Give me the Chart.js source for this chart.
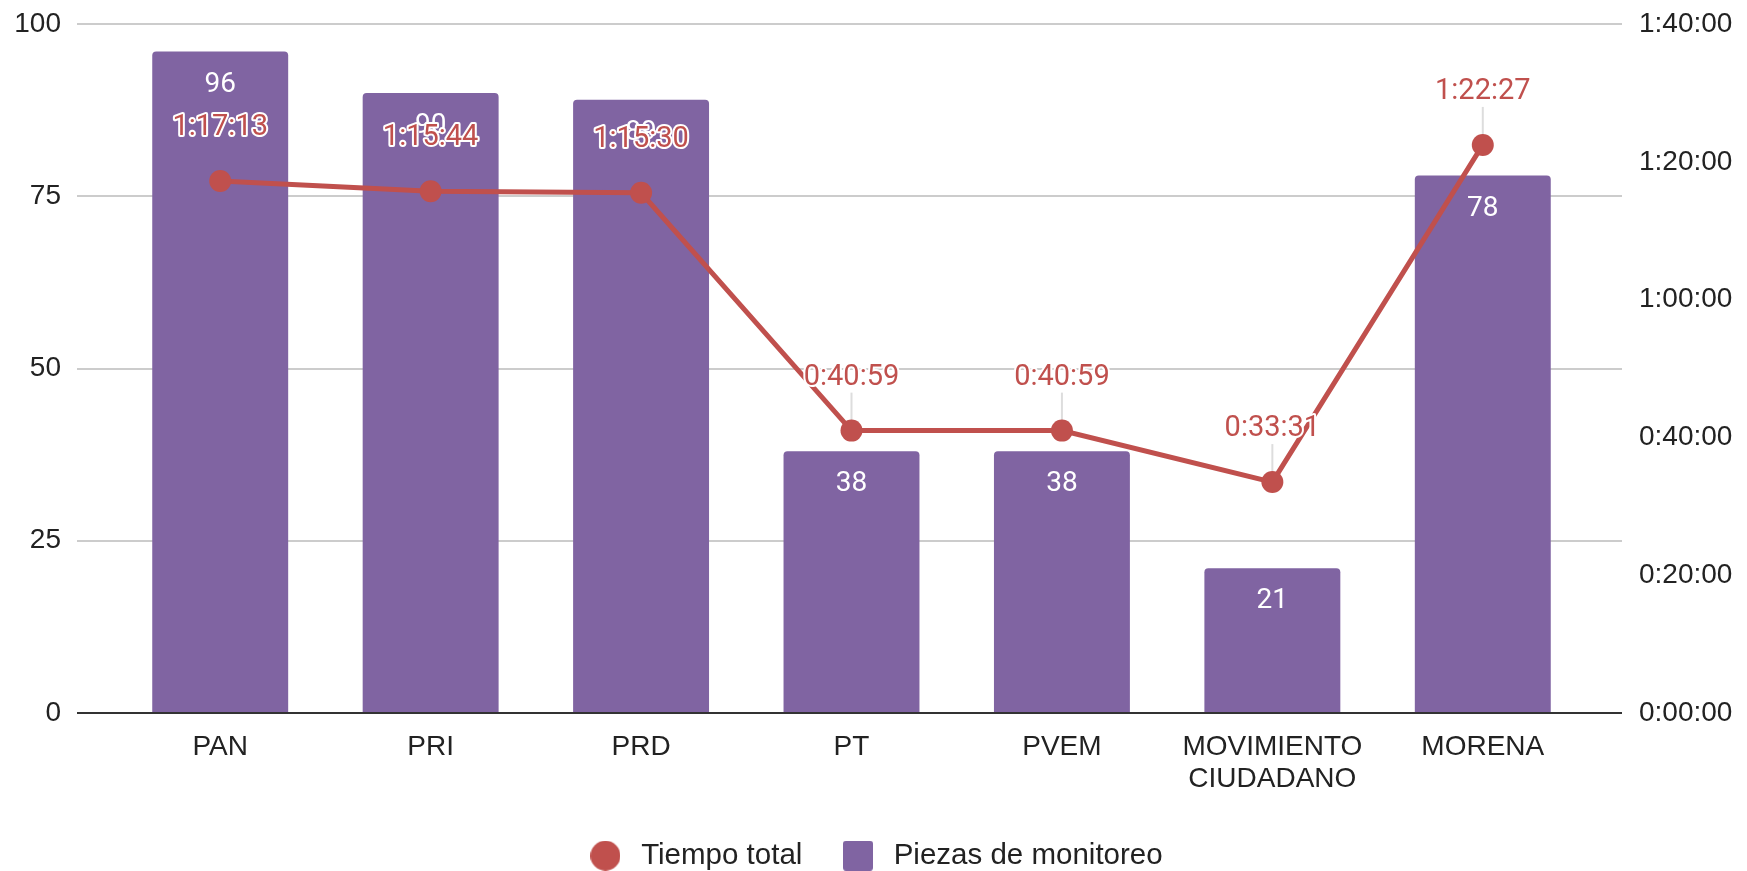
<!DOCTYPE html>
<html>
<head>
<meta charset="utf-8">
<script src="https://cdn.jsdelivr.net/npm/chart.js@4.4.1/dist/chart.umd.min.js"></script>
<style>
  html, body { margin: 0; padding: 0; background: #fff; }
  #wrap { width: 1747px; height: 871px; }
</style>
</head>
<body>
<div id="wrap"><canvas id="grafica"></canvas></div>
<script>
// datos
const partidos = ['PAN', 'PRI', 'PRD', 'PT', 'PVEM', ['MOVIMIENTO', 'CIUDADANO'], 'MORENA'];
const piezas = [96, 90, 89, 38, 38, 21, 78];
const tiempoTotal = ['1:17:13', '1:15:44', '1:15:30', '0:40:59', '0:40:59', '0:33:31', '1:22:27'];
const ticksPiezas = [0, 25, 50, 75, 100];
const ticksTiempo = ['0:00:00', '0:20:00', '0:40:00', '1:00:00', '1:20:00', '1:40:00'];

const ROJO = '#C0504D';
const MORADO = '#8064A2';

// "h:mm:ss" -> segundos
function aSegundos(t) {
    let p = t.split(':').map(Number);
    return p[0] * 3600 + p[1] * 60 + p[2];
}
function aTexto(s) {
    let h = Math.floor(s / 3600), m = Math.floor((s % 3600) / 60), seg = s % 60;
    return h + ':' + String(m).padStart(2, '0') + ':' + String(seg).padStart(2, '0');
}

// marcas de la leyenda
function marca(color, circulo) {
    let c = document.createElement('canvas');
    c.width = 30; c.height = 30;
    let g = c.getContext('2d');
    g.fillStyle = color;
    g.beginPath();
    if (circulo) g.arc(15, 15, 15, 0, Math.PI * 2);
    else g.roundRect(0, 0, 30, 30, 3);
    g.fill();
    return c;
}

const colorRejilla = ctx => ctx.tick && ctx.tick.value === 0 ? '#333333' : '#cccccc';
const sinRelleno = s => { s.paddingTop = 0; s.paddingBottom = 0; };

const SUBIDA = 53; // distancia etiqueta - punto

// etiquetas de datos
const etiquetas = {
    id: 'etiquetas',
    beforeDatasetsDraw(chart) {
        // lineas guia, detras de las barras
        let ctx = chart.ctx;
        ctx.save();
        ctx.strokeStyle = '#dddddd';
        ctx.lineWidth = 2;
        chart.getDatasetMeta(0).data.forEach(p => {
            ctx.beginPath();
            ctx.moveTo(p.x, p.y - 8);
            ctx.lineTo(p.x, p.y - SUBIDA + 15);
            ctx.stroke();
        });
        ctx.restore();
    },
    afterDatasetsDraw(chart) {
        let ctx = chart.ctx;
        let barras = chart.getDatasetMeta(1).data;
        let puntos = chart.getDatasetMeta(0).data;
        ctx.save();
        ctx.textAlign = 'center';
        ctx.textBaseline = 'middle';

        // valores de las barras
        ctx.font = '28px Roboto';
        ctx.fillStyle = '#ffffff';
        barras.forEach((b, i) => ctx.fillText(String(piezas[i]), b.x, b.y + 33));

        // tiempos con halo blanco
        ctx.font = '29px Roboto';
        ctx.lineJoin = 'round';
        ctx.lineWidth = 4;
        ctx.strokeStyle = '#ffffff';
        ctx.fillStyle = ROJO;
        puntos.forEach((p, i) => {
            ctx.strokeText(tiempoTotal[i], p.x, p.y - SUBIDA);
            ctx.fillText(tiempoTotal[i], p.x, p.y - SUBIDA);
        });
        ctx.restore();
    }
};

const fuente = { family: '"Liberation Sans", Arial, sans-serif', size: 28 };

new Chart(document.getElementById('grafica'), {
    type: 'bar',
    data: {
        labels: partidos,
        datasets: [{
            type: 'line',
            label: 'Tiempo total',
            data: tiempoTotal.map(aSegundos),
            yAxisID: 'y1',
            order: 0,
            borderColor: ROJO,
            backgroundColor: ROJO,
            borderWidth: 5,
            pointRadius: 11,
            pointHoverRadius: 11,
            pointBorderWidth: 0,
            tension: 0
        }, {
            label: 'Piezas de monitoreo',
            data: piezas,
            yAxisID: 'y',
            order: 1,
            backgroundColor: MORADO,
            borderRadius: { topLeft: 4, topRight: 4 },
            borderSkipped: 'start',
            categoryPercentage: 1,
            barPercentage: 0.646
        }]
    },
    options: {
        responsive: true,
        maintainAspectRatio: false,
        animation: false,
        layout: { padding: { top: 24, left: 0, right: 0, bottom: 0 } },
        plugins: {
            tooltip: { enabled: false },
            legend: {
                position: 'bottom',
                maxHeight: 40,
                labels: {
                    usePointStyle: true,
                    pointStyleWidth: 42,
                    padding: 10,
                    color: '#222222',
                    font: { family: fuente.family, size: 29.5 },
                    generateLabels(chart) {
                        let items = Chart.defaults.plugins.legend.labels.generateLabels(chart);
                        items.forEach(it => {
                            if (it.text === 'Tiempo total') {
                                it.pointStyle = marca(ROJO, true);
                                it.text = it.text + '   ';
                            } else {
                                it.pointStyle = marca(MORADO, false);
                            }
                        });
                        return items;
                    }
                }
            }
        },
        scales: {
            x: {
                offset: true,
                grid: { display: false, drawTicks: false },
                border: { display: false },
                ticks: { color: '#222222', font: { ...fuente, lineHeight: 1.15 }, padding: 18, maxRotation: 0, autoSkip: false },
                afterFit: s => { s.height = 118; }
            },
            y: {
                position: 'left',
                min: 0,
                max: 100,
                afterBuildTicks: s => { s.ticks = ticksPiezas.map(v => ({ value: v })); },
                grid: { color: colorRejilla, tickColor: colorRejilla, lineWidth: 2, tickLength: 38 },
                border: { display: false },
                ticks: { color: '#222222', font: fuente, padding: 16 },
                afterFit: s => { s.width = 115; sinRelleno(s); }
            },
            // prolongacion de la rejilla a la derecha
            yRejilla: {
                position: 'right',
                weight: 0,
                min: 0,
                max: 100,
                afterBuildTicks: s => { s.ticks = ticksPiezas.map(v => ({ value: v })); },
                grid: { drawOnChartArea: false, color: colorRejilla, tickColor: colorRejilla, lineWidth: 2, tickLength: 34 },
                border: { display: false },
                ticks: { display: false },
                afterFit: s => { s.width = 34; sinRelleno(s); }
            },
            y1: {
                position: 'right',
                weight: 1,
                min: 0,
                max: aSegundos(ticksTiempo[ticksTiempo.length - 1]),
                afterBuildTicks: s => { s.ticks = ticksTiempo.map(t => ({ value: aSegundos(t) })); },
                grid: { display: false, drawTicks: false },
                border: { display: false },
                ticks: { color: '#222222', font: fuente, padding: 17, callback: v => aTexto(v) },
                afterFit: s => { s.width = 125; sinRelleno(s); }
            }
        }
    },
    plugins: [etiquetas]
});
</script>
</body>
</html>
